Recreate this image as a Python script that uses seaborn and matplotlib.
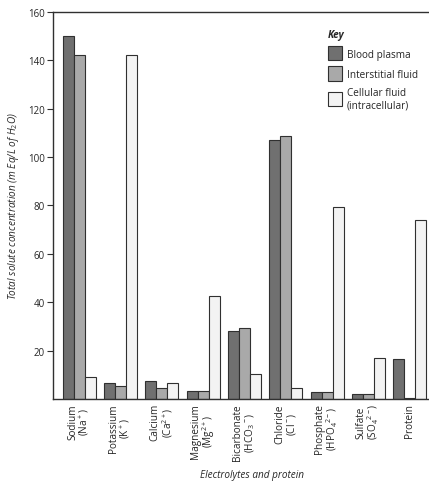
import matplotlib
matplotlib.use("Agg")
import matplotlib.pyplot as plt
import pandas as pd
import seaborn as sns

# categories and values
categories = ["Sodium\n(Na$^+$)", "Potassium\n(K$^+$)", "Calcium\n(Ca$^{2+}$)",
              "Magnesium\n(Mg$^{2+}$)", "Bicarbonate\n(HCO$_3$$^-$)", "Chloride\n(Cl$^-$)",
              "Phosphate\n(HPO$_4$$^{2-}$)", "Sulfate\n(SO$_4$$^{2-}$)", "Protein"]
series = ["Blood plasma", "Interstitial fluid", "Cellular fluid\n(intracellular)"]
blood_plasma = [150, 6.5, 7.5, 3.5, 28, 107, 3, 2, 16.5]
interstitial = [142, 5.5, 4.5, 3.5, 29.5, 108.5, 3, 2, 0.5]
cellular = [9, 142, 6.5, 42.5, 10.5, 4.5, 79.5, 17, 74]
yticks = [20, 40, 60, 80, 100, 120, 140, 160]

colors = ["#707070", "#a9a9a9", "#f3f3f3"]

df = pd.DataFrame({
    "category": categories * 3,
    "fluid": [series[0]] * 9 + [series[1]] * 9 + [series[2]] * 9,
    "value": blood_plasma + interstitial + cellular,
})

sns.set_style("white")
plt.rcParams["font.family"] = ["Open Sans", "DejaVu Sans"]
plt.rcParams["mathtext.fontset"] = "custom"
plt.rcParams["mathtext.rm"] = "Open Sans"

fig = plt.figure(figsize=(4.29, 4.85), dpi=100)
ax = fig.add_axes([0.1235, 0.1753, 0.8765, 0.7985])

sns.barplot(data=df, x="category", y="value", hue="fluid", palette=colors,
            edgecolor="#303030", linewidth=0.8, width=0.8, ax=ax, saturation=1)

ax.set_ylim(0, 160)
ax.set_xlim(-0.64, 8.47)
ax.set_yticks(yticks)
ax.set_yticklabels([str(t) for t in yticks], fontsize=7)
ax.tick_params(axis="y", direction="out", length=4, width=0.8, color="#303030", pad=2, left=True)
ax.tick_params(axis="x", length=0, pad=3)
ax.set_xticks(range(len(categories)))
ax.set_xticklabels(categories, rotation=90, fontsize=7.2, va="top", ha="center",
                   multialignment="center", linespacing=0.95)

for side in ["left", "bottom", "top"]:
    ax.spines[side].set_visible(True)
    ax.spines[side].set_color("#303030")
    ax.spines[side].set_linewidth(1.0)
ax.spines["right"].set_visible(False)

ax.set_ylabel("Total solute concentration (m Eq/L of H$_2$O)", fontsize=7.2,
              style="italic", labelpad=5)
ax.set_xlabel("Electrolytes and protein", fontsize=7.2, style="italic")
ax.xaxis.set_label_coords(0.53, -0.18)

leg = ax.legend(title="Key", loc="upper left", bbox_to_anchor=(0.72, 0.965),
                frameon=False, fontsize=7.2, handlelength=1.4, handleheight=1.8,
                labelspacing=0.6, handletextpad=0.5, borderaxespad=0)
leg.get_title().set_fontweight("bold")
leg.get_title().set_fontstyle("italic")
leg.get_title().set_fontsize(7.2)
leg._legend_box.align = "left"

fig.savefig("out.png", dpi=100)
